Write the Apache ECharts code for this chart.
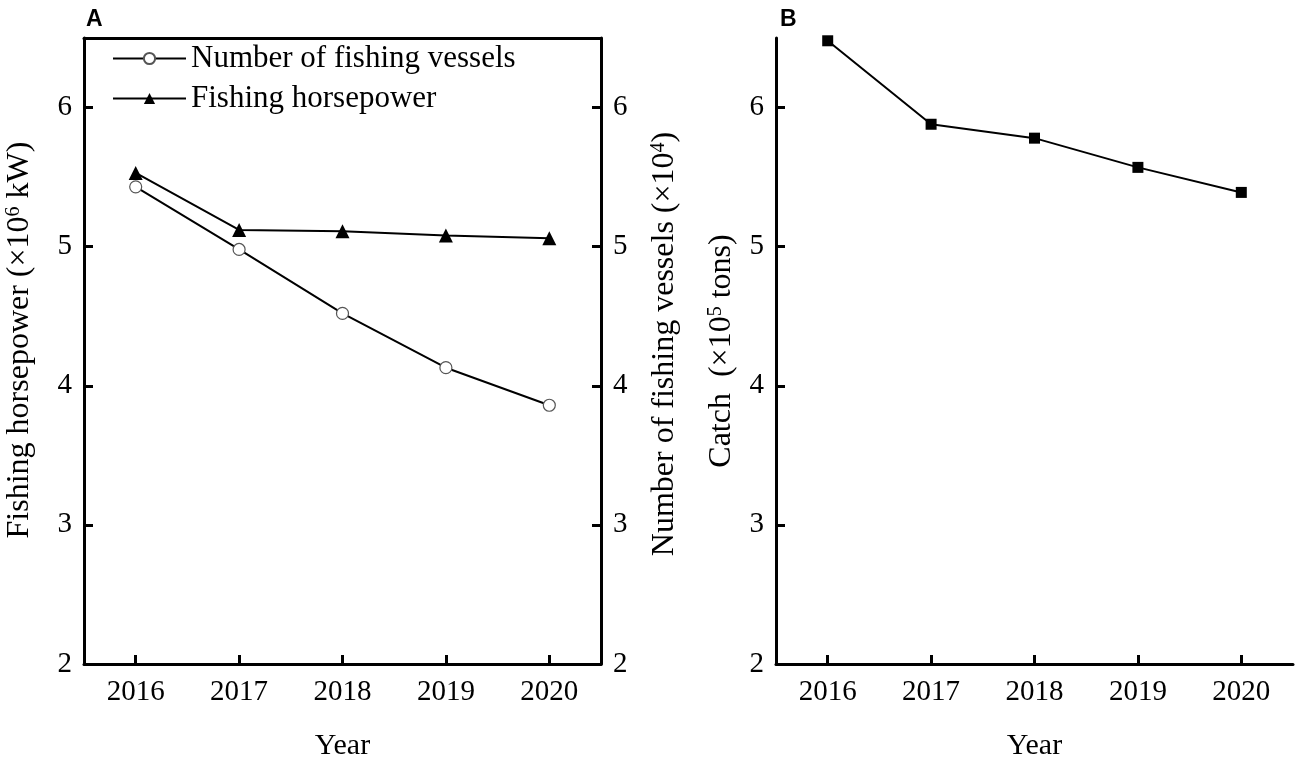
<!DOCTYPE html>
<html><head><meta charset="utf-8">
<script src="https://cdn.jsdelivr.net/npm/echarts@6/dist/echarts.min.js"></script>
<style>html,body{margin:0;padding:0;background:#fff;overflow:hidden}#c{width:1299px;height:766px}</style>
</head><body><div id="c"></div>
<script>
const years = ['2016', '2017', '2018', '2019', '2020'];
const vessels = [5.43, 4.98, 4.52, 4.13, 3.86];
const horsepower = [5.53, 5.12, 5.11, 5.08, 5.06];
const catchVals = [6.48, 5.88, 5.78, 5.57, 5.39];
const yTicks = [2, 3, 4, 5, 6];

const SERIF = '"Liberation Serif", "Times New Roman", serif';
const FS = 29;
const NFS = 32;
const axisLineStyle = { color: '#000', width: 3 };
const tickStyle = { show: true, inside: true, length: 9, lineStyle: { color: '#000', width: 3 } };
const labelStyle = { color: '#000', fontFamily: SERIF, fontSize: FS };
const richName = {
  a: { fontFamily: SERIF, fontSize: NFS, color: '#000' },
  s: { fontFamily: SERIF, fontSize: 20, color: '#000', verticalAlign: 'top', padding: [0, 0, 12, 0] }
};

function yAxisBase(extra, pad) {
  return Object.assign({
    type: 'value', min: 2, max: 6.5, interval: 1,
    splitLine: { show: false },
    axisLine: { show: true, onZero: false, lineStyle: axisLineStyle },
    axisTick: tickStyle,
    axisLabel: Object.assign({}, labelStyle, {
      margin: 12, showMaxLabel: false,
      formatter: v => (yTicks.indexOf(v) >= 0 ? String(v) : '')
    }),
    nameLocation: 'middle', nameRotate: 90,
    nameTextStyle: { rich: richName, padding: pad }
  }, extra);
}

function xAxisBase(gridIndex) {
  return {
    type: 'category', data: years, gridIndex: gridIndex, boundaryGap: true,
    axisLine: { show: true, onZero: false, lineStyle: axisLineStyle },
    axisTick: Object.assign({}, tickStyle, { alignWithLabel: true }),
    axisLabel: Object.assign({}, labelStyle, { margin: 14 }),
    splitLine: { show: false },
    name: 'Year', nameLocation: 'middle', nameGap: 67,
    nameTextStyle: { fontFamily: SERIF, fontSize: 30, color: '#000' }
  };
}

const chart = echarts.init(document.getElementById('c'), null, { renderer: 'canvas' });
chart.setOption({
  backgroundColor: '#fff',
  animation: false,
  title: [
    { text: 'A', left: 81, top: 3, textStyle: { fontFamily: '"Liberation Sans", Arial, sans-serif', fontWeight: 'bold', fontSize: 23, color: '#000' } },
    { text: 'B', left: 775, top: 3, textStyle: { fontFamily: '"Liberation Sans", Arial, sans-serif', fontWeight: 'bold', fontSize: 23, color: '#000' } }
  ],
  grid: [
    { left: 84, right: 698, top: 38, bottom: 97, containLabel: false },
    { left: 776, right: 6, top: 38, bottom: 97, containLabel: false }
  ],
  legend: {
    orient: 'vertical', left: 107, top: 38, itemWidth: 73, itemHeight: 14, itemGap: 9,
    textStyle: { fontFamily: SERIF, fontSize: 31, color: '#000' },
    data: ['Number of fishing vessels', 'Fishing horsepower']
  },
  xAxis: [
    xAxisBase(0),
    {
      type: 'category', data: years, gridIndex: 0, position: 'top',
      axisLine: { show: true, onZero: false, lineStyle: axisLineStyle },
      axisTick: { show: false }, axisLabel: { show: false }, splitLine: { show: false }
    },
    xAxisBase(1)
  ],
  yAxis: [
    yAxisBase({ gridIndex: 0, position: 'left', name: '{a|Fishing horsepower (×10}{s|6}{a| kW)}', nameGap: 48 }, [0, 0, 0, 22]),
    yAxisBase({ gridIndex: 0, position: 'right', name: '{a|Number of fishing vessels (×10}{s|4}{a|)}', nameGap: 48 }, [0, 0, 0, 14]),
    yAxisBase({ gridIndex: 1, position: 'left', name: '{a|Catch  (×10}{s|5}{a| tons)}', nameGap: 38 }, [0, 0, 0, 0])
  ],
  series: [
    {
      name: 'Number of fishing vessels', type: 'line', xAxisIndex: 0, yAxisIndex: 1,
      data: vessels, symbol: 'circle', symbolSize: 12,
      lineStyle: { color: '#000', width: 2 },
      itemStyle: { color: '#fff', borderColor: '#555', borderWidth: 1.2 }
    },
    {
      name: 'Fishing horsepower', type: 'line', xAxisIndex: 0, yAxisIndex: 0,
      data: horsepower, symbol: 'triangle', symbolSize: 14,
      lineStyle: { color: '#000', width: 2 },
      itemStyle: { color: '#000' }
    },
    {
      name: 'Catch', type: 'line', xAxisIndex: 2, yAxisIndex: 2,
      data: catchVals, symbol: 'rect', symbolSize: 11,
      lineStyle: { color: '#000', width: 2 },
      itemStyle: { color: '#000' }
    }
  ]
});
</script>
</body></html>
